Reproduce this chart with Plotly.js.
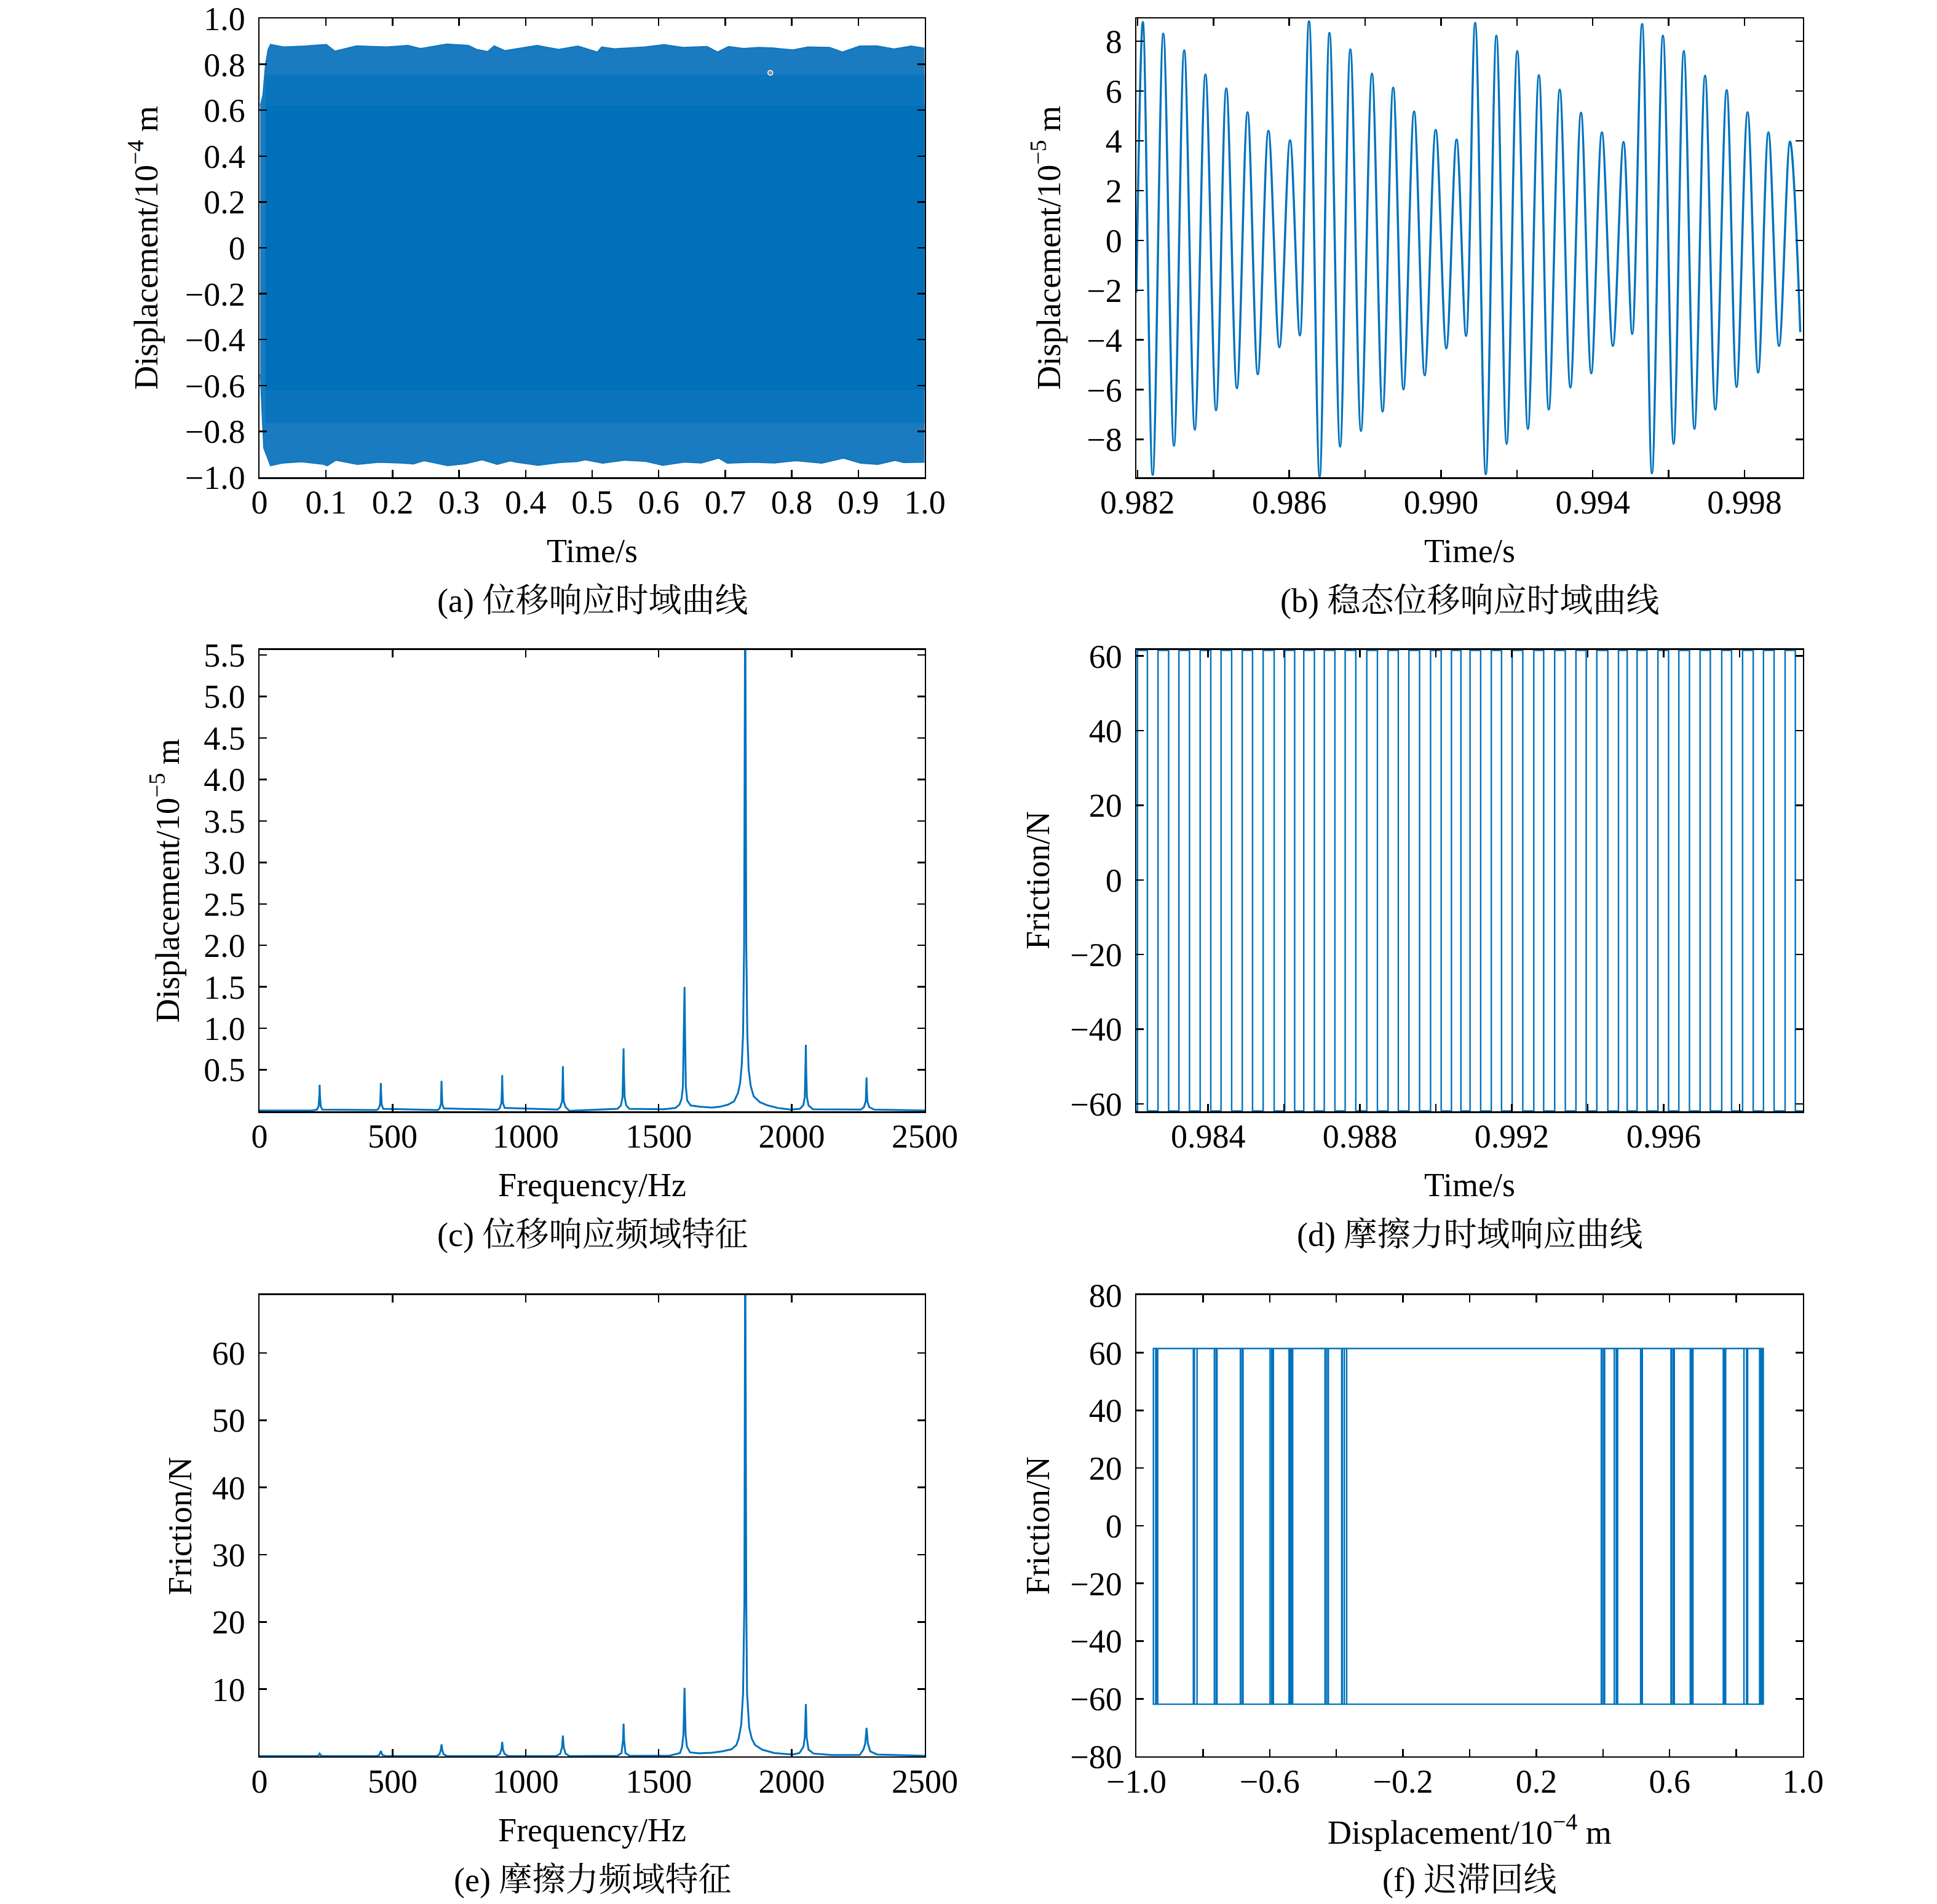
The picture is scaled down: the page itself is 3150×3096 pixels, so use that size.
<!DOCTYPE html>
<html>
<head>
<meta charset="utf-8">
<script src="https://cdn.plot.ly/plotly-3.0.1.min.js"></script>
<style>
  html, body { margin: 0; padding: 0; background: #fff; }
  #chart { width: 3150px; height: 3096px; }
</style>
</head>
<body>
<div id="chart"></div>
<script>
// ---- (a) displacement over 1 s, 1e-4 m : envelope of the dense oscillation ----
const upperTime = [0.001, 0.005, 0.009, 0.0128, 0.0165, 0.0359, 0.0682, 0.1005, 0.1135, 0.1457, 0.1910, 0.2233, 0.2427, 0.2815, 0.3138, 0.3268, 0.3429, 0.3526, 0.3687, 0.4172, 0.4495, 0.4786, 0.5077, 0.5142, 0.5336, 0.5789, 0.6079, 0.6370, 0.6726, 0.6887, 0.7049, 0.7275, 0.7502, 0.7728, 0.8019, 0.8245, 0.8568, 0.8762, 0.9020, 0.9279, 0.9537, 0.9796, 0.9995];
const upperDisp = [0.62, 0.665, 0.80, 0.865, 0.887, 0.876, 0.880, 0.887, 0.858, 0.881, 0.876, 0.883, 0.869, 0.889, 0.883, 0.865, 0.856, 0.881, 0.860, 0.883, 0.865, 0.880, 0.854, 0.876, 0.868, 0.876, 0.886, 0.874, 0.878, 0.854, 0.878, 0.869, 0.874, 0.871, 0.863, 0.876, 0.874, 0.854, 0.880, 0.881, 0.867, 0.880, 0.871];
const lowerTime = [0.001, 0.004, 0.0063, 0.0165, 0.0359, 0.0632, 0.0955, 0.1020, 0.1149, 0.1472, 0.1795, 0.2118, 0.2312, 0.2474, 0.2829, 0.3088, 0.3347, 0.3573, 0.3767, 0.3864, 0.4187, 0.4510, 0.4769, 0.4898, 0.5157, 0.5480, 0.5803, 0.6062, 0.6385, 0.6643, 0.6902, 0.7031, 0.7419, 0.7742, 0.8065, 0.8453, 0.8776, 0.9035, 0.9293, 0.9552, 0.9681, 0.9995];
const lowerDisp = [-0.55, -0.75, -0.873, -0.950, -0.938, -0.933, -0.944, -0.950, -0.926, -0.944, -0.935, -0.938, -0.942, -0.928, -0.950, -0.942, -0.924, -0.944, -0.929, -0.935, -0.948, -0.936, -0.932, -0.924, -0.939, -0.926, -0.931, -0.948, -0.934, -0.938, -0.917, -0.939, -0.935, -0.938, -0.928, -0.939, -0.917, -0.939, -0.944, -0.927, -0.936, -0.935];
// where the striped edge zones of the band start / the solid core starts
const bandTime = [0.009, 0.9995];
const stripeLevel = [0.755, -0.765];
const coreLevel = [0.62, -0.62];
const specklePoint = {t: [0.7678], d: [0.763]};

// ---- (b) steady-state displacement, 1e-5 m : extrema of the curve ----
const startTime = [0.98197];
const startDisp = [-2.1];
const peakTime = [0.98214, 0.98268, 0.98323, 0.98379, 0.98434, 0.98490, 0.98545, 0.98602, 0.98652, 0.98706, 0.98761, 0.98818, 0.98874, 0.98929, 0.98986, 0.99041, 0.99090, 0.99146, 0.99201, 0.99258, 0.99313, 0.99369, 0.99424, 0.99481, 0.99530, 0.99585, 0.99640, 0.99696, 0.99753, 0.99808, 0.99863, 0.99920];
const peakDisp = [8.78, 8.31, 7.64, 6.67, 6.11, 5.15, 4.40, 4.02, 8.81, 8.34, 7.68, 6.70, 6.14, 5.18, 4.44, 4.05, 8.74, 8.23, 7.61, 6.64, 6.06, 5.13, 4.34, 3.95, 8.70, 8.23, 7.61, 6.62, 6.04, 5.15, 4.34, 3.97];
const troughTime = [0.98240, 0.98296, 0.98351, 0.98407, 0.98462, 0.98517, 0.98574, 0.98628, 0.98680, 0.98734, 0.98789, 0.98846, 0.98901, 0.98957, 0.99014, 0.99066, 0.99118, 0.99173, 0.99229, 0.99284, 0.99341, 0.99396, 0.99453, 0.99504, 0.99556, 0.99613, 0.99668, 0.99723, 0.99779, 0.99836, 0.99891, 0.99947];
const troughDisp = [-9.42, -8.26, -7.61, -6.83, -5.94, -5.38, -4.29, -3.82, -9.49, -8.29, -7.66, -6.88, -5.99, -5.42, -4.34, -3.84, -9.39, -8.18, -7.58, -6.80, -5.91, -5.34, -4.24, -3.76, -9.36, -8.18, -7.58, -6.80, -5.89, -5.31, -4.24, -3.69];

// ---- (d)/(f) friction: saturates and flips sign at each displacement extremum ----
const frictionLevel = [61.5, -61.9];   // after a peak, after a trough
const frictionWindow = [0.98197, 0.99970];

// ---- (c) displacement spectrum, 1e-5 m ----
const specHzC = [0, 200, 216, 222, 225, 226, 227, 230, 236, 440, 447, 453, 455, 456, 457, 459, 465, 670, 677, 682, 683, 684, 685, 687, 692, 895, 903, 909, 911, 912, 913, 915, 921, 1120, 1130, 1137, 1139, 1140, 1141, 1143, 1150, 1165, 1345, 1358, 1364, 1367, 1368, 1369, 1372, 1378, 1390, 1520, 1563, 1578, 1586, 1591, 1595, 1597, 1599, 1602, 1607, 1620, 1654, 1700, 1730, 1760, 1783, 1798, 1806, 1812, 1817, 1821, 1825, 1829, 1833, 1838, 1846, 1857, 1880, 1910, 1948, 1994, 2030, 2043, 2049, 2052, 2053, 2054, 2057, 2063, 2080, 2260, 2271, 2278, 2280, 2281, 2282, 2284, 2291, 2310, 2500];
const specAmpC = [0.010, 0.012, 0.020, 0.060, 0.200, 0.318, 0.200, 0.060, 0.020, 0.015, 0.030, 0.080, 0.220, 0.341, 0.220, 0.080, 0.030, 0.015, 0.035, 0.090, 0.240, 0.367, 0.240, 0.090, 0.035, 0.018, 0.040, 0.100, 0.280, 0.436, 0.280, 0.100, 0.040, 0.020, 0.050, 0.120, 0.350, 0.542, 0.350, 0.120, 0.050, 0.005, 0.030, 0.070, 0.170, 0.500, 0.758, 0.500, 0.170, 0.070, 0.030, 0.025, 0.040, 0.080, 0.150, 0.300, 0.930, 1.500, 0.930, 0.300, 0.130, 0.070, 0.055, 0.045, 0.055, 0.080, 0.120, 0.220, 0.340, 0.560, 0.930, 2.000, 6.500, 2.000, 0.930, 0.500, 0.300, 0.180, 0.110, 0.070, 0.040, 0.020, 0.030, 0.070, 0.170, 0.520, 0.800, 0.520, 0.170, 0.070, 0.025, 0.020, 0.050, 0.120, 0.270, 0.408, 0.270, 0.120, 0.050, 0.020, 0.010];

// ---- (e) friction spectrum, N ----
const specHzE = [0, 215, 222, 226, 230, 240, 440, 450, 456, 462, 475, 665, 676, 681, 684, 687, 692, 705, 890, 903, 909, 912, 915, 921, 935, 1115, 1130, 1137, 1140, 1143, 1150, 1165, 1345, 1360, 1366, 1368, 1370, 1375, 1390, 1540, 1580, 1588, 1593, 1597, 1601, 1606, 1618, 1650, 1700, 1739, 1774, 1792, 1800, 1810, 1817, 1822, 1825, 1829, 1832, 1840, 1850, 1862, 1889, 1934, 2004, 2029, 2044, 2049, 2053, 2056, 2063, 2082, 2150, 2255, 2269, 2276, 2281, 2286, 2295, 2321, 2500];
const specAmpE = [0.05, 0.05, 0.15, 0.42, 0.15, 0.05, 0.05, 0.2, 0.8, 0.2, 0.05, 0.05, 0.3, 0.9, 1.8, 0.9, 0.3, 0.05, 0.05, 0.35, 1.0, 2.15, 1.0, 0.35, 0.05, 0.05, 0.4, 1.4, 3.1, 1.4, 0.4, 0.05, 0.1, 0.5, 2.4, 4.86, 2.4, 0.5, 0.1, 0.1, 0.5, 1.45, 3.3, 10.2, 3.3, 1.45, 0.6, 0.45, 0.55, 0.75, 1.07, 1.7, 2.6, 4.7, 9.4, 23, 80, 23, 9.4, 4.25, 2.6, 1.7, 1.0, 0.5, 0.28, 0.5, 1.45, 2.85, 7.8, 2.85, 1.0, 0.42, 0.2, 0.2, 1.0, 1.9, 4.25, 1.9, 0.75, 0.28, 0.1];

// ---- ticks (labelled) and unlabelled in-between ticks ----
const timeTicksA = [0, 0.1, 0.2, 0.3, 0.4, 0.5, 0.6, 0.7, 0.8, 0.9, 1.0];
const timeLabelsA = ['0', '0.1', '0.2', '0.3', '0.4', '0.5', '0.6', '0.7', '0.8', '0.9', '1.0'];
const dispTicksA = [-1, -0.8, -0.6, -0.4, -0.2, 0, 0.2, 0.4, 0.6, 0.8, 1];
const dispLabelsA = ['\u22121.0', '\u22120.8', '\u22120.6', '\u22120.4', '\u22120.2', '0', '0.2', '0.4', '0.6', '0.8', '1.0'];
const timeTicksB = [0.982, 0.986, 0.990, 0.994, 0.998];
const timeLabelsB = ['0.982', '0.986', '0.990', '0.994', '0.998'];
const timeMinorB = [0.984, 0.988, 0.992, 0.996];
const dispTicksB = [-8, -6, -4, -2, 0, 2, 4, 6, 8];
const dispLabelsB = ['\u22128', '\u22126', '\u22124', '\u22122', '0', '2', '4', '6', '8'];
const freqTicks = [0, 500, 1000, 1500, 2000, 2500];
const freqLabels = ['0', '500', '1000', '1500', '2000', '2500'];
const ampTicksC = [0.5, 1.0, 1.5, 2.0, 2.5, 3.0, 3.5, 4.0, 4.5, 5.0, 5.5];
const ampLabelsC = ['0.5', '1.0', '1.5', '2.0', '2.5', '3.0', '3.5', '4.0', '4.5', '5.0', '5.5'];
const timeTicksD = [0.984, 0.988, 0.992, 0.996];
const timeLabelsD = ['0.984', '0.988', '0.992', '0.996'];
const timeMinorD = [0.986, 0.990, 0.994, 0.998];
const fricTicksD = [-60, -40, -20, 0, 20, 40, 60];
const fricLabelsD = ['\u221260', '\u221240', '\u221220', '0', '20', '40', '60'];
const fricTicksE = [10, 20, 30, 40, 50, 60];
const fricLabelsE = ['10', '20', '30', '40', '50', '60'];
const dispTicksF = [-1, -0.6, -0.2, 0.2, 0.6, 1];
const dispLabelsF = ['\u22121.0', '\u22120.6', '\u22120.2', '0.2', '0.6', '1.0'];
const dispMinorF = [-0.8, -0.4, 0, 0.4, 0.8];
const fricTicksF = [-80, -60, -40, -20, 0, 20, 40, 60, 80];
const fricLabelsF = ['\u221280', '\u221260', '\u221240', '\u221220', '0', '20', '40', '60', '80'];

const LINE_BLUE = '#0072bd';
const SERIF = "'Liberation Serif', 'Times New Roman', serif";
const CAPTION_FONT = "'Liberation Serif', 'Noto Serif CJK SC', 'Noto Sans CJK SC', serif";

// interleave the extrema in time order: peak, trough, peak, ...
var extremaTime = [], extremaDisp = [];
peakTime.forEach((t, i) => {
    extremaTime.push(t, troughTime[i]);
    extremaDisp.push(peakDisp[i], troughDisp[i]);
});

// square friction signal (d) and hysteresis loop (f)
var fricT = [frictionWindow[0]], fricV = [frictionLevel[1]];
var loopX = [], loopY = [];
extremaTime.forEach((t, i) => {
    var before = frictionLevel[(i + 1) % 2], after = frictionLevel[i % 2];
    fricT.push(t, t);
    fricV.push(before, after);
    loopX.push(extremaDisp[i] / 10, extremaDisp[i] / 10);
    loopY.push(before, after);
});
fricT.push(frictionWindow[1]);
fricV.push(frictionLevel[1]);

function axisStyle(domain, anchor, range, vals, text, minorVals, standoff) {
    var ax = {
        domain: domain, anchor: anchor, range: range,
        tickmode: 'array', tickvals: vals, ticktext: text,
        ticks: 'inside', ticklen: 12, tickwidth: 2.5, tickcolor: '#000',
        showline: true, linecolor: '#000', linewidth: 2.5, mirror: 'ticks',
        showgrid: false, zeroline: false,
        ticklabelstandoff: standoff, ticklabeloverflow: 'allow',
        tickfont: {family: SERIF, size: 54, color: '#000'}
    };
    if (minorVals) {
        ax.minor = {tickmode: 'array', tickvals: minorVals, ticks: 'inside',
            ticklen: 12, tickwidth: 2.5, tickcolor: '#000', showgrid: false};
    }
    return ax;
}
const xAxis = (d, a, r, v, t, m) => axisStyle(d, a, r, v, t, m, -8);
const yAxis = (d, a, r, v, t) => axisStyle(d, a, r, v, t, null, 10);

function label(text, x, y, angle) {
    return {text: text, x: x, y: y, xref: 'paper', yref: 'paper', showarrow: false,
        xanchor: 'center', yanchor: 'middle', textangle: angle || 0,
        font: {family: SERIF, size: 54, color: '#000'}};
}

function caption(text, x, y) {
    return {text: text, x: x, y: y, xref: 'paper', yref: 'paper', showarrow: false,
        xanchor: 'center', yanchor: 'middle',
        font: {family: CAPTION_FONT, size: 54, color: '#000'}};
}

const line = (w) => ({color: LINE_BLUE, width: w});

var data = [
    // (a) band: outer envelope, striped edge zones, solid core
    {x: upperTime, y: upperDisp, xaxis: 'x', yaxis: 'y', mode: 'lines', line: {color: '#0d74bb', width: 1.5}},
    {x: lowerTime, y: lowerDisp, xaxis: 'x', yaxis: 'y', mode: 'lines', line: {color: '#0d74bb', width: 1.5},
        fill: 'tonexty', fillcolor: '#1a7bc0'},
    {x: bandTime, y: [stripeLevel[0], stripeLevel[0]], xaxis: 'x', yaxis: 'y', mode: 'lines', line: {width: 0}},
    {x: bandTime, y: [stripeLevel[1], stripeLevel[1]], xaxis: 'x', yaxis: 'y', mode: 'lines', line: {width: 0},
        fill: 'tonexty', fillcolor: '#0a75bc'},
    {x: bandTime, y: [coreLevel[0], coreLevel[0]], xaxis: 'x', yaxis: 'y', mode: 'lines', line: {width: 0}},
    {x: bandTime, y: [coreLevel[1], coreLevel[1]], xaxis: 'x', yaxis: 'y', mode: 'lines', line: {width: 0},
        fill: 'tonexty', fillcolor: '#0070ba'},
    {x: specklePoint.t, y: specklePoint.d, xaxis: 'x', yaxis: 'y', mode: 'markers',
        marker: {size: 8, color: '#8f8f8f', line: {color: '#ffffff', width: 1.5}}},
    // (b)
    {x: startTime.concat(extremaTime), y: startDisp.concat(extremaDisp), xaxis: 'x2', yaxis: 'y2',
        mode: 'lines', line: Object.assign(line(3.5), {shape: 'spline', smoothing: 1})},
    // (c)
    {x: specHzC, y: specAmpC, xaxis: 'x3', yaxis: 'y3', mode: 'lines', line: line(3)},
    // (d)
    {x: fricT, y: fricV, xaxis: 'x4', yaxis: 'y4', mode: 'lines', line: line(2.4)},
    // (e)
    {x: specHzE, y: specAmpE, xaxis: 'x5', yaxis: 'y5', mode: 'lines', line: line(3)},
    // (f)
    {x: loopX, y: loopY, xaxis: 'x6', yaxis: 'y6', mode: 'lines', line: line(2.4)}
];

const colL = [0.13397, 0.47746], colR = [0.58667, 0.93079];
const row1 = [0.74935, 0.99031], row2 = [0.41634, 0.65860], row3 = [0.07752, 0.31977];
const midL = (colL[0] + colL[1]) / 2, midR = (colR[0] + colR[1]) / 2;

var layout = {
    width: 3150, height: 3096,
    margin: {l: 0, r: 0, t: 0, b: 0},
    paper_bgcolor: '#ffffff', plot_bgcolor: '#ffffff',
    showlegend: false,
    xaxis: xAxis(colL, 'y', [0, 1], timeTicksA, timeLabelsA),
    yaxis: yAxis(row1, 'x', [-1, 1], dispTicksA, dispLabelsA),
    xaxis2: xAxis(colR, 'y2', [0.98197, 0.99954], timeTicksB, timeLabelsB, timeMinorB),
    yaxis2: yAxis(row1, 'x2', [-9.52, 8.92], dispTicksB, dispLabelsB),
    xaxis3: xAxis(colL, 'y3', [0, 2500], freqTicks, freqLabels),
    yaxis3: yAxis(row2, 'x3', [0, 5.56], ampTicksC, ampLabelsC),
    xaxis4: xAxis(colR, 'y4', [0.98211, 0.99967], timeTicksD, timeLabelsD, timeMinorD),
    yaxis4: yAxis(row2, 'x4', [-62.0, 61.6], fricTicksD, fricLabelsD),
    xaxis5: xAxis(colL, 'y5', [0, 2500], freqTicks, freqLabels),
    yaxis5: yAxis(row3, 'x5', [0, 68.6], fricTicksE, fricLabelsE),
    xaxis6: xAxis(colR, 'y6', [-1, 1], dispTicksF, dispLabelsF, dispMinorF),
    yaxis6: yAxis(row3, 'x6', [-80, 80], fricTicksF, fricLabelsF),
    annotations: [
        label('Time/s', midL, 0.7106), label('Time/s', midR, 0.7106),
        label('Frequency/Hz', midL, 0.3776), label('Time/s', midR, 0.3776),
        label('Frequency/Hz', midL, 0.0388), label('Displacement/10<sup>\u22124</sup> m', midR, 0.0388),
        label('Displacement/10<sup>\u22124</sup> m', 0.0743, 0.8699, -90),
        label('Displacement/10<sup>\u22125</sup> m', 0.5403, 0.8699, -90),
        label('Displacement/10<sup>\u22125</sup> m', 0.0854, 0.5375, -90),
        label('Friction/N', 0.5359, 0.5375, -90),
        label('Friction/N', 0.0930, 0.1986, -90),
        label('Friction/N', 0.5359, 0.1986, -90),
        caption('(a) 位移响应时域曲线', midL, 0.6844),
        caption('(b) 稳态位移响应时域曲线', midR, 0.6844),
        caption('(c) 位移响应频域特征', midL, 0.3514),
        caption('(d) 摩擦力时域响应曲线', midR, 0.3514),
        caption('(e) 摩擦力频域特征', midL, 0.0126),
        caption('(f) 迟滞回线', midR, 0.0126)
    ]
};

Plotly.newPlot('chart', data, layout, {staticPlot: true, displayModeBar: false});
</script>
</body>
</html>
